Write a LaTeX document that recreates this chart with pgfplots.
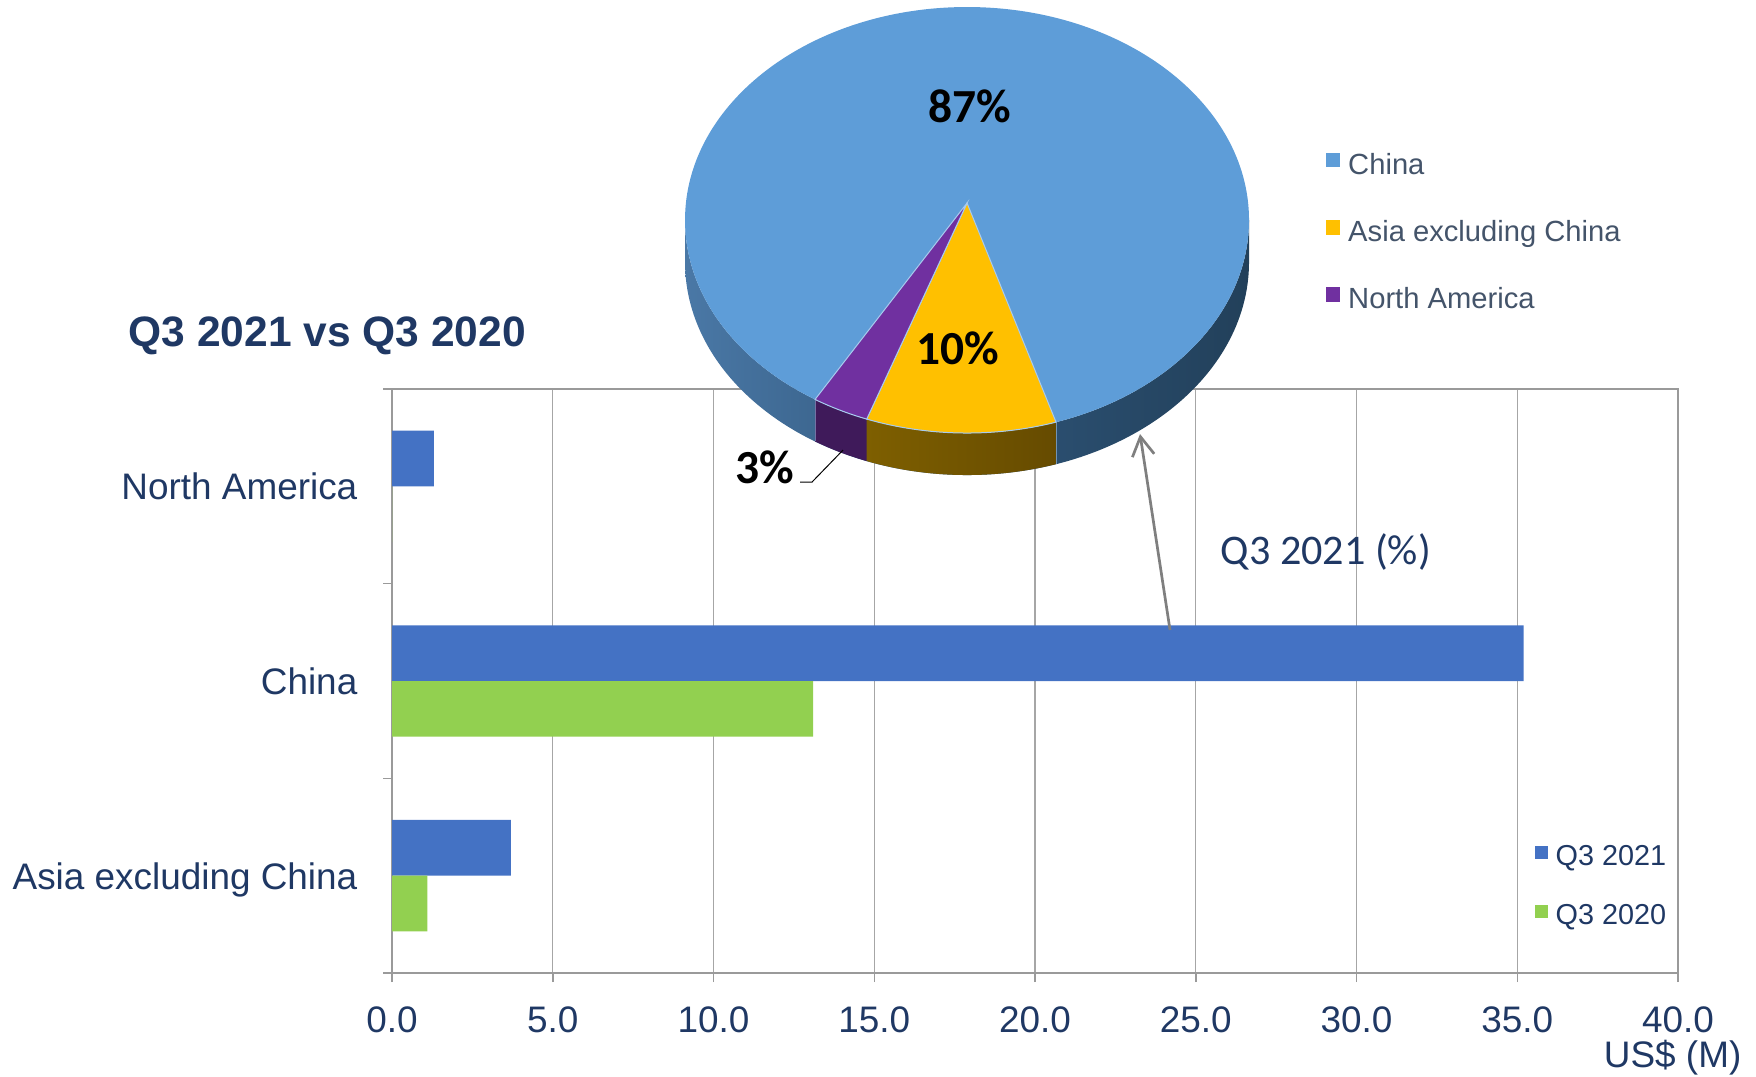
\documentclass[border=0pt]{standalone}
\usepackage{pgfplots}
\pgfplotsset{compat=1.18}
\usepackage{pgfplotstable}
\usetikzlibrary{arrows.meta}
\usepackage{fontspec}
\setmainfont{Liberation Sans}
\newfontfamily\calibri{Carlito}
\definecolor{navy}{HTML}{1F3864}
\definecolor{slate}{HTML}{44546A}
\definecolor{bar21}{HTML}{4472C4}
\definecolor{bar20}{HTML}{92D050}
\definecolor{pchina}{HTML}{5E9DD8}
\definecolor{pasia}{HTML}{FFC000}
\definecolor{pna}{HTML}{7030A0}
\definecolor{gridgray}{HTML}{A6A6A6}
\definecolor{axgray}{HTML}{9A9A9A}
\definecolor{arrgray}{HTML}{7F7F7F}
\definecolor{sideL}{HTML}{4A78A6}
\definecolor{sideM}{HTML}{2E5478}
\definecolor{sideR}{HTML}{22405A}
\definecolor{ysideL}{HTML}{7E5F00}
\definecolor{ysideR}{HTML}{664B00}
\definecolor{pside}{HTML}{3F1A5A}
\definecolor{edge}{HTML}{A8CBEE}

\pgfplotstableread{
pos q2021 q2020
0 3.7 1.1
1 35.2 13.1
2 1.3 0
}\bardata

\pgfplotstableread{
share
87
10
3
}\piedata

\begin{document}
\begin{tikzpicture}
\pgfplotstablegetelem{1}{share}\of\piedata \let\pAsia\pgfplotsretval
\pgfplotstablegetelem{2}{share}\of\piedata \let\pNA\pgfplotsretval
% slice boundaries (3.6 deg per percent, widened by 1.09 for the front perspective as drawn)
\pgfmathsetmacro\aA{-71.6}
\pgfmathsetmacro\aB{\aA-3.6*1.09*\pAsia}
\pgfmathsetmacro\aC{\aB-3.6*1.09*\pNA}
% ---------------- bar chart ----------------
\begin{axis}[
  at={(39.2mm,-97.3mm)}, anchor=south west,
  width=128.6mm, height=58.4mm, scale only axis,
  xbar, bar width=5.57mm,
  xmin=0, xmax=40, ymin=-0.5, ymax=2.5,
  xtick={0,5,...,40},
  xticklabels={0.0,5.0,10.0,15.0,20.0,25.0,30.0,35.0,40.0},
  xticklabel style={font=\fontsize{10.5}{12}\selectfont, text=navy, inner sep=0pt, anchor=north, yshift=-2.4mm},
  ytick={-0.5,0.5,1.5,2.5},
  yticklabels={},
  extra y ticks={0,1,2},
  extra y tick labels={Asia excluding China,China,North America},
  extra y tick style={major tick length=0pt, grid=none,
     yticklabel style={font=\fontsize{10.5}{12}\selectfont, text=navy, inner sep=0pt, anchor=east, text depth=0pt, xshift=-3.4mm}},
  xtick pos=bottom, ytick pos=left,
  tick align=outside,
  major tick length=0.9mm,
  tick style={axgray, line width=0.15mm},
  xmajorgrids, grid style={gridgray, line width=0.13mm},
  axis line style={axgray, line width=0.2mm},
  legend style={at={(axis cs:35.52,0.16)}, anchor=north west, draw=none, fill=none,
     inner sep=0pt, row sep=3.4mm, column sep=0.8mm,
     font=\fontsize{8.2}{9}\selectfont, text=navy, nodes={inner sep=0pt}},
  legend cell align=left,
  legend image code/.code={\fill[#1, draw=none] (0mm,-0.1mm) rectangle (1.3mm,1.2mm);},
]
\addplot[fill=bar21, draw=none, bar shift=2.785mm] table[x=q2021, y=pos]{\bardata};
\addplot[fill=bar20, draw=none, bar shift=-2.785mm] table[x=q2020, y=pos]{\bardata};
\legend{Q3 2021, Q3 2020}
\end{axis}
% ---------------- pie + annotations (pixel frame) ----------------
\begin{axis}[
  at={(0,0)}, anchor=north west,
  hide axis, clip=false,
  x=0.1mm, y=0.1mm, y dir=reverse,
  xmin=0, xmax=1756, ymin=0, ymax=1076,
  legend style={at={(axis cs:1325,152)}, anchor=north west, draw=none, fill=none,
     inner sep=0pt, row sep=4.06mm, column sep=0.8mm,
     font=\fontsize{8.3}{9}\selectfont, text=slate, nodes={inner sep=0pt}},
  legend cell align=left,
  legend image code/.code={\fill[#1, draw=none] (0mm,-0.1mm) rectangle (1.45mm,1.35mm);},
]
\addlegendimage{fill=pchina}\addlegendentry{China}
\addlegendimage{fill=pasia}\addlegendentry{Asia excluding China}
\addlegendimage{fill=pna}\addlegendentry{North America}
% side of the pie (whole front band)
\shade[left color=sideL, right color=sideR, middle color=sideM]
  (axis cs:685,220) arc[start angle=180, end angle=360, x radius=28.2mm, y radius=21.3mm]
  -- ++(0,-4.2mm) arc[start angle=360, end angle=180, x radius=28.2mm, y radius=21.3mm] -- cycle;
% side: Asia excluding China
\shade[left color=ysideL, right color=ysideR]
  (axis cs:{967+282*cos(\aA)},{220-213*sin(\aA)}) arc[start angle=\aA, end angle=\aB, x radius=28.2mm, y radius=21.3mm]
  -- ++(0,-4.2mm) arc[start angle=\aB, end angle=\aA, x radius=28.2mm, y radius=21.3mm] -- cycle;
% side: North America
\fill[pside]
  (axis cs:{967+282*cos(\aB)},{220-213*sin(\aB)}) arc[start angle=\aB, end angle=\aC, x radius=28.2mm, y radius=21.3mm]
  -- ++(0,-4.2mm) arc[start angle=\aC, end angle=\aB, x radius=28.2mm, y radius=21.3mm] -- cycle;
% side edges
\draw[edge!60!sideR, line width=0.1mm] (axis cs:{967+282*cos(\aA)},{220-213*sin(\aA)}) -- ++(0,-4.2mm);
\draw[edge!50!pside, line width=0.1mm] (axis cs:{967+282*cos(\aC)},{220-213*sin(\aC)}) -- ++(0,-4.2mm);
% top
\fill[pchina] (axis cs:967,220) ellipse[x radius=28.2mm, y radius=21.3mm];
\fill[pasia, draw=edge, line width=0.1mm] (axis cs:967,203) -- (axis cs:{967+282*cos(\aA)},{220-213*sin(\aA)})
  arc[start angle=\aA, end angle=\aB, x radius=28.2mm, y radius=21.3mm] -- cycle;
\fill[pna, draw=edge, line width=0.1mm] (axis cs:967,203) -- (axis cs:{967+282*cos(\aB)},{220-213*sin(\aB)})
  arc[start angle=\aB, end angle=\aC, x radius=28.2mm, y radius=21.3mm] -- cycle;
% labels
\node[font=\calibri\bfseries\fontsize{13.5}{15}\selectfont, inner sep=0pt] at (axis cs:970,106) {87\%};
\node[font=\calibri\bfseries\fontsize{13.5}{15}\selectfont, inner sep=0pt] at (axis cs:958,348) {10\%};
\node[font=\calibri\bfseries\fontsize{13.5}{15}\selectfont, inner sep=0pt] at (axis cs:765,467) {3\%};
\draw[black, line width=0.1mm] (axis cs:800,482) -- (axis cs:812,482) -- (axis cs:843,450);
% title and annotations
\node[anchor=west, inner sep=0pt, font=\bfseries\fontsize{12.1}{14}\selectfont, text=navy] at (axis cs:128,336) {Q3 2021 vs Q3 2020};
\node[anchor=west, inner sep=0pt, font=\calibri\fontsize{12}{14}\selectfont, text=navy] at (axis cs:1220,552) {Q3 2021 (\%)};
\draw[arrgray, line width=0.27mm, -{Straight Barb[length=1.9mm, width=2.2mm]}] (axis cs:1170,630) -- (axis cs:1140,434);
\node[anchor=east, inner sep=0pt, font=\fontsize{10.5}{12}\selectfont, text=navy] at (axis cs:1742,1058) {US\$ (M)};
\end{axis}
\pgfresetboundingbox
\path[use as bounding box] (0,0) rectangle (175.6mm,-107.6mm);
\end{tikzpicture}%
\end{document}
